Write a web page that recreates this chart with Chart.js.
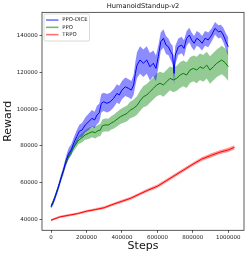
<!DOCTYPE html>
<html>
<head>
<meta charset="utf-8">
<script src="https://cdn.jsdelivr.net/npm/chart.js@4/dist/chart.umd.min.js"></script>
<style>
  html, body { margin: 0; padding: 0; background: #fff; }
  #wrap { width: 249px; height: 257px; position: relative; }
</style>
</head>
<body>
<div id="wrap"><canvas id="c"></canvas></div>
<script>
// PPO-DICE: steps, mean reward, half width of the shaded band
const diceSteps = [0, 12000, 25000, 40000, 55000, 70000, 85000, 100000, 115000, 130000,
  145000, 160000, 175000, 193000, 213000, 231000, 246000, 259000, 272000, 284000,
  297000, 316000, 334000, 353000, 372000, 385000, 400000, 419000, 438000, 453000,
  466000, 476000, 485000, 502000, 521000, 540000, 558000, 577000, 592000, 605000,
  619000, 634000, 649000, 662000, 675000, 686000, 694000, 701000, 718000, 737000,
  750000, 765000, 780000, 793000, 807000, 822000, 836000, 852000, 869000, 887000,
  906000, 925000, 944000, 958000, 972000, 987000, 1000000];
const diceMean = [47000, 49000, 52500, 57000, 62000, 66500, 72000, 76000, 78000, 82000,
  85000, 88000, 88600, 91400, 93200, 95000, 94100, 96800, 98000, 103200,
  104000, 103200, 104000, 105900, 108600, 107700, 110400, 112200, 111300, 110400,
  113200, 119500, 124000, 126800, 125000, 126800, 123100, 125000, 122200, 128600,
  136700, 138600, 134900, 134000, 131300, 129500, 119500, 129500, 134000, 134900,
  133100, 138600, 140400, 137700, 135900, 138600, 137700, 135900, 138600, 137700,
  140400, 144000, 142200, 142500, 140400, 136700, 134000];
const diceSpread = [1200, 1500, 1500, 1800, 2000, 2200, 2500, 3000, 3000, 3000,
  3500, 3500, 3800, 4000, 4500, 4500, 4500, 5000, 5000, 5000,
  5000, 5000, 5000, 5000, 5000, 5000, 5000, 5000, 5000, 5000,
  5500, 6500, 7000, 7500, 7500, 7500, 7500, 7000, 7000, 6000,
  5000, 5000, 5000, 4500, 4500, 5000, 6000, 5000, 4500, 4500,
  4500, 4000, 4000, 4000, 4000, 4000, 4000, 4000, 4000, 4000,
  3500, 3500, 3500, 3500, 4000, 4500, 5000];

// PPO
const ppoSteps = [0, 15000, 30000, 45000, 62000, 80000, 100000, 118000, 137000, 156000,
  175000, 193000, 212000, 231000, 250000, 265000, 278000, 290000, 305000, 325000,
  340000, 353000, 372000, 391000, 410000, 429000, 447000, 466000, 485000, 502000,
  521000, 540000, 558000, 577000, 596000, 615000, 634000, 653000, 671000, 690000,
  709000, 728000, 746000, 765000, 784000, 803000, 822000, 840000, 859000, 878000,
  897000, 915000, 935000, 963000, 981000, 1000000];
const ppoMean = [47000, 50500, 54500, 58500, 64100, 69500, 74500, 77700, 80500, 83200,
  84500, 86000, 86800, 87700, 87200, 88300, 88600, 91000, 91400, 91400,
  92500, 93100, 94500, 95900, 96800, 97700, 99500, 100500, 102000, 104500,
  106800, 107700, 109500, 111300, 113200, 114100, 113200, 115000, 116800, 115900,
  116800, 118600, 119500, 118600, 121300, 122200, 121300, 123100, 122200, 124000,
  121300, 123100, 125000, 126800, 125400, 123100];
const ppoSpread = [800, 900, 1000, 1100, 1200, 1300, 1500, 1800, 2000, 2200,
  2500, 2700, 3000, 3000, 3200, 3200, 3300, 3400, 3500, 3500,
  3600, 3800, 4000, 4000, 4200, 4300, 4500, 4800, 5000, 5500,
  5800, 6000, 6000, 6000, 6200, 6300, 6500, 6500, 6500, 6700,
  6800, 7000, 7000, 7000, 7000, 7000, 7200, 7200, 7300, 7300,
  7500, 7500, 7500, 7800, 7800, 7800];

// TRPO
const trpoSteps = [0, 50000, 100000, 150000, 200000, 250000, 300000, 350000, 400000, 450000,
  500000, 550000, 600000, 650000, 700000, 750000, 800000, 850000, 900000, 950000, 1000000, 1035000];
const trpoMean = [39500, 41300, 42200, 43100, 44400, 45300, 46300, 48200, 49800, 51500,
  53800, 56000, 58000, 61000, 64000, 67000, 70000, 72800, 74700, 76500, 77800, 79200];
const trpoSpread = [600, 600, 650, 650, 700, 700, 750, 750, 800, 800,
  850, 850, 900, 900, 950, 1000, 1000, 1050, 1100, 1100, 1150, 1200];

const yTicks = [40000, 60000, 80000, 100000, 120000, 140000];
const xTicks = [0, 200000, 400000, 600000, 800000, 1000000];

const seriesNames = ['PPO-DICE', 'PPO', 'TRPO'];
const lineColors = ['#0000ff', '#008000', '#ff0000'];
const bandColors = ['rgba(0,0,255,0.45)', 'rgba(0,128,0,0.42)', 'rgba(255,0,0,0.4)'];
const legendColors = ['rgba(0,0,255,0.55)', 'rgba(0,128,0,0.55)', 'rgba(255,0,0,0.55)'];

const FONT = "'DejaVu Sans', sans-serif";

function pts(xs, ys) { return xs.map((x, i) => ({ x: x, y: ys[i] })); }
function shift(ys, d, sign) { return ys.map((v, i) => v + sign * d[i]); }

const series = [
  { xs: diceSteps, mean: diceMean, spread: diceSpread },
  { xs: ppoSteps, mean: ppoMean, spread: ppoSpread },
  { xs: trpoSteps, mean: trpoMean, spread: trpoSpread }
];

const datasets = [];
series.forEach((s, i) => {
  datasets.push({
    label: seriesNames[i], data: pts(s.xs, s.mean),
    borderColor: lineColors[i], borderWidth: 1, pointRadius: 0, fill: false, order: 0
  });
});
series.forEach((s, i) => {
  datasets.push({
    label: '_upper', data: pts(s.xs, shift(s.mean, s.spread, 1)),
    borderWidth: 0, borderColor: 'transparent', pointRadius: 0, fill: false, order: 1
  });
  datasets.push({
    label: '_lower', data: pts(s.xs, shift(s.mean, s.spread, -1)),
    borderWidth: 0, borderColor: 'transparent', pointRadius: 0,
    fill: '-1', backgroundColor: bandColors[i], order: 1
  });
});

// frame round the plot area and the matplotlib-style legend box
const framePlugin = {
  id: 'frame',
  afterDraw(chart) {
    const { ctx, chartArea: a } = chart;
    ctx.save();
    ctx.strokeStyle = '#333';
    ctx.lineWidth = 0.8;
    ctx.strokeRect(a.left, a.top, a.right - a.left, a.bottom - a.top);

    const bx = a.left + 2, by = a.top + 1.7, bw = 45.5, bh = 27;
    ctx.fillStyle = 'rgba(255,255,255,0.85)';
    ctx.strokeStyle = '#d0d0d0';
    ctx.lineWidth = 0.8;
    ctx.beginPath();
    ctx.roundRect(bx, by, bw, bh, 1.5);
    ctx.fill();
    ctx.stroke();

    ctx.font = '5.3px ' + FONT;
    ctx.textBaseline = 'middle';
    seriesNames.forEach((name, i) => {
      const yy = by + 6 + i * 7.3;
      ctx.strokeStyle = legendColors[i];
      ctx.lineWidth = 1.6;
      ctx.beginPath();
      ctx.moveTo(bx + 2, yy);
      ctx.lineTo(bx + 14.5, yy);
      ctx.stroke();
      ctx.fillStyle = '#222';
      ctx.fillText(name, bx + 18.3, yy);
    });
    ctx.restore();
  }
};

new Chart(document.getElementById('c'), {
  type: 'line',
  data: { datasets: datasets },
  options: {
    responsive: true,
    maintainAspectRatio: false,
    animation: false,
    layout: { padding: { left: 0, right: 5, top: 0, bottom: 0 } },
    plugins: {
      legend: { display: false },
      tooltip: { enabled: false },
      title: {
        display: true, text: 'HumanoidStandup-v2', fullSize: false,
        color: '#111', font: { family: FONT, size: 6.7, weight: 'normal', lineHeight: 1.2 },
        padding: { top: 2.5, bottom: 1.8 }
      }
    },
    scales: {
      x: {
        type: 'linear', min: -50760, max: 1088500,
        afterBuildTicks: s => { s.ticks = xTicks.map(v => ({ value: v })); },
        afterFit: s => { s.height = 26.7; },
        ticks: { color: '#222', font: { family: FONT, size: 5.5 }, padding: 1.2, maxRotation: 0,
          callback: v => String(v) },
        grid: { drawOnChartArea: false, tickLength: 2.5, color: '#333', tickWidth: 0.8 },
        border: { display: false },
        title: { display: true, text: 'Steps', color: '#111',
          font: { family: FONT, size: 11 }, padding: { top: 0, bottom: 4.5 } }
      },
      y: {
        type: 'linear', min: 34010, max: 152750,
        afterBuildTicks: s => { s.ticks = yTicks.map(v => ({ value: v })); },
        afterFit: s => { s.width = 42; },
        ticks: { color: '#222', font: { family: FONT, size: 5.5 }, padding: 1.8,
          callback: v => String(v) },
        grid: { drawOnChartArea: false, tickLength: 2.5, color: '#333', tickWidth: 0.8 },
        border: { display: false },
        title: { display: true, text: 'Reward', color: '#111',
          font: { family: FONT, size: 11 }, padding: { top: 2, bottom: 0 } }
      }
    }
  },
  plugins: [framePlugin]
});
</script>
</body>
</html>
